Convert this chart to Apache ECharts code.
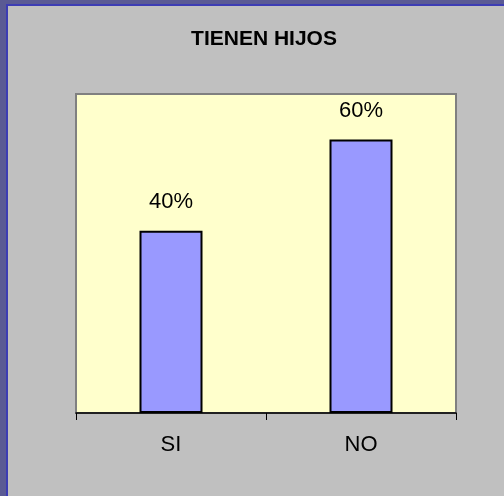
<!DOCTYPE html>
<html>
<head>
<meta charset="UTF-8">
<title>TIENEN HIJOS</title>
<script src="https://cdn.jsdelivr.net/npm/echarts@6/dist/echarts.min.js"></script>
<style>
  html, body { margin: 0; padding: 0; background: #5a5a94; }
  #container { width: 504px; height: 496px; }
</style>
</head>
<body>
<div id="container"></div>
<script type="text/javascript">
// datos del grafico
var categorias = ['SI', 'NO'];
var valores = [40, 60];
var yMax = 70;

var dom = document.getElementById('container');
var myChart = echarts.init(dom);
var option = {
    backgroundColor: '#5a5a94',
    animation: false,
    graphic: [
        {
            type: 'rect',
            z: -10,
            shape: { x: 7, y: 5, width: 520, height: 520 },
            style: { fill: '#c0c0c0', stroke: '#3c3cb4', lineWidth: 2 }
        }
    ],
    title: {
        text: 'TIENEN HIJOS',
        left: 259,
        top: 24,
        textAlign: 'center',
        textStyle: {
            fontFamily: 'Liberation Sans, Arial, sans-serif',
            fontSize: 21,
            fontWeight: 'bold',
            color: '#000'
        }
    },
    grid: {
        left: 76,
        right: 48,
        top: 94,
        bottom: 83,
        show: true,
        backgroundColor: '#ffffcc',
        borderColor: '#808080',
        borderWidth: 2
    },
    xAxis: {
        type: 'category',
        data: categorias,
        axisLine: { show: true, lineStyle: { color: '#000', width: 1.5 } },
        axisTick: { show: true, alignWithLabel: false, interval: 0, length: 7, lineStyle: { color: '#000', width: 1 } },
        axisLabel: {
            margin: 21,
            fontFamily: 'Liberation Sans, Arial, sans-serif',
            fontSize: 22,
            color: '#000'
        }
    },
    yAxis: {
        type: 'value',
        min: 0,
        max: yMax,
        show: false
    },
    series: [
        {
            type: 'bar',
            data: valores,
            barWidth: 63,
            itemStyle: { color: '#9999ff', borderColor: '#000', borderWidth: 2 },
            label: {
                show: true,
                position: 'top',
                distance: 18,
                formatter: '{c}%',
                fontFamily: 'Liberation Sans, Arial, sans-serif',
                fontSize: 22,
                color: '#000'
            }
        }
    ]
};
myChart.setOption(option);
</script>
</body>
</html>
